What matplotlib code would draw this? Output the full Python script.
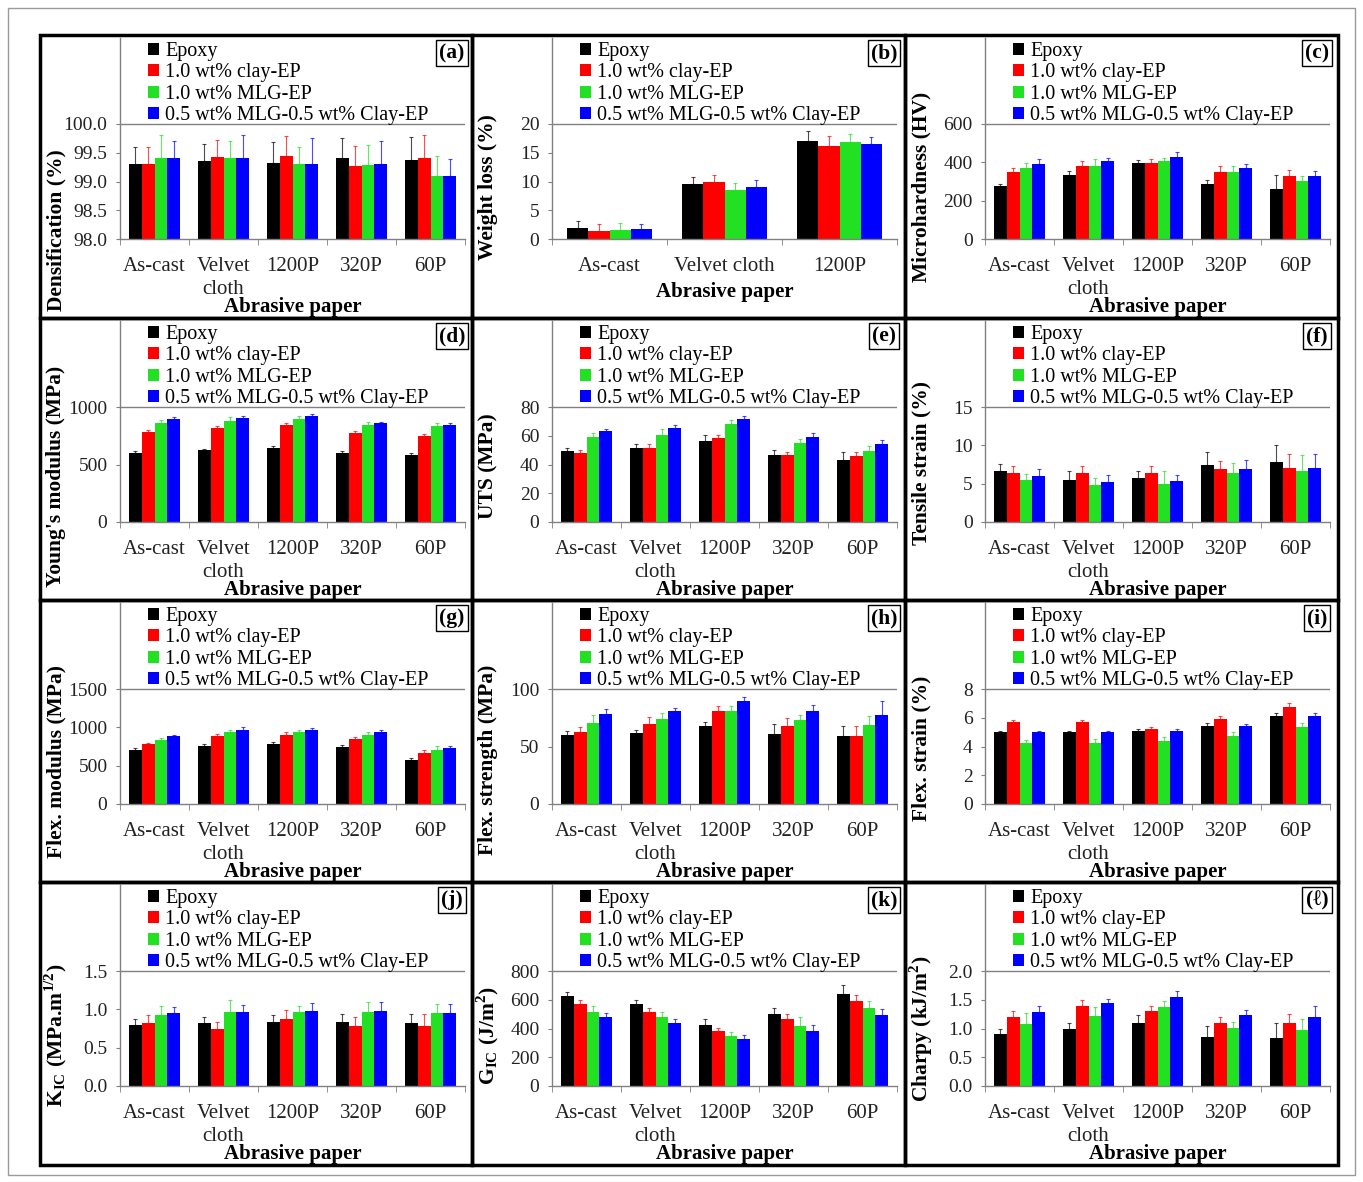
import numpy as np
import matplotlib
matplotlib.use("Agg")
import matplotlib.pyplot as plt
from matplotlib.patches import Rectangle

plt.rcParams['font.family'] = ['Liberation Serif', 'DejaVu Serif']
plt.rcParams['mathtext.fontset'] = 'stix'

# ---- data ----
series = ["Epoxy", "1.0 wt% clay-EP", "1.0 wt% MLG-EP", "0.5 wt% MLG-0.5 wt% Clay-EP"]
colors = ["#000000", "#ff0000", "#22e022", "#0000ff"]

cats5 = ["As-cast", "Velvet\ncloth", "1200P", "320P", "60P"]
cats3 = ["As-cast", "Velvet cloth", "1200P"]

densification = [[99.3, 99.35, 99.33, 99.4, 99.38],
                 [99.3, 99.43, 99.45, 99.27, 99.4],
                 [99.4, 99.4, 99.3, 99.28, 99.1],
                 [99.4, 99.4, 99.3, 99.3, 99.1]]
densification_err = [[0.3, 0.3, 0.35, 0.35, 0.4],
                     [0.3, 0.3, 0.35, 0.35, 0.4],
                     [0.4, 0.3, 0.3, 0.35, 0.35],
                     [0.3, 0.4, 0.45, 0.4, 0.3]]

weight_loss = [[2.0, 9.6, 17.1],
               [1.4, 10.0, 16.1],
               [1.6, 8.5, 16.9],
               [1.7, 9.1, 16.5]]
weight_loss_err = [[1.2, 1.2, 1.6],
                   [1.2, 1.2, 1.9],
                   [1.2, 1.3, 1.4],
                   [0.9, 1.2, 1.3]]

microhardness = [[274, 335, 396, 286, 262],
                 [347, 382, 396, 349, 331],
                 [370, 382, 405, 349, 305],
                 [391, 405, 427, 370, 331]]
microhardness_err = [[15, 20, 15, 20, 70],
                     [25, 25, 20, 30, 30],
                     [25, 35, 20, 30, 25],
                     [25, 20, 25, 20, 25]]

youngs = [[599, 622, 642, 599, 579],
          [779, 814, 842, 771, 745],
          [865, 880, 894, 842, 831],
          [894, 903, 920, 857, 842]]
youngs_err = [[15, 15, 15, 15, 20],
              [20, 20, 20, 20, 20],
              [25, 30, 30, 25, 30],
              [15, 15, 15, 15, 15]]

uts = [[49.7, 51.3, 56.6, 46.3, 42.9],
       [48.1, 51.3, 58.2, 46.8, 45.6],
       [58.9, 60.5, 67.9, 55.0, 49.7],
       [63.0, 65.3, 71.5, 58.9, 54.3]]
uts_err = [[2, 3, 4, 4, 6],
           [2, 3, 2, 2, 3],
           [3, 4, 3, 3, 3],
           [2, 2, 2, 3, 3]]

tensile_strain = [[6.6, 5.5, 5.8, 7.5, 7.8],
                  [6.4, 6.45, 6.45, 6.9, 7.0],
                  [5.5, 4.8, 5.0, 6.45, 6.6],
                  [6.0, 5.2, 5.4, 6.9, 7.05]]
tensile_strain_err = [[1.0, 1.2, 0.8, 1.6, 2.2],
                      [0.9, 0.9, 0.9, 1.1, 1.9],
                      [0.8, 0.9, 1.6, 1.2, 2.2],
                      [0.9, 0.9, 0.7, 1.2, 1.8]]

flex_modulus = [[706, 759, 785, 750, 575],
                [781, 881, 903, 846, 663],
                [837, 938, 938, 903, 698],
                [881, 968, 968, 938, 728]]
flex_modulus_err = [[20, 20, 20, 20, 20],
                    [20, 30, 30, 30, 40],
                    [30, 30, 30, 30, 60],
                    [20, 30, 25, 30, 30]]

flex_strength = [[60.2, 61.6, 68.0, 61.0, 58.7],
                 [62.2, 69.8, 81.1, 67.4, 58.7],
                 [70.3, 73.8, 81.1, 72.7, 68.3],
                 [78.2, 81.1, 89.8, 80.5, 77.0]]
flex_strength_err = [[3, 3, 3, 9, 9],
                     [5, 6, 4, 7, 9],
                     [7, 5, 4, 5, 8],
                     [4, 2, 3, 6, 13]]

flex_strain = [[5.0, 4.98, 5.1, 5.44, 6.1],
               [5.7, 5.7, 5.2, 5.93, 6.74],
               [4.23, 4.23, 4.35, 4.7, 5.33],
               [5.0, 5.0, 5.1, 5.44, 6.1]]
flex_strain_err = [[0.1, 0.1, 0.1, 0.2, 0.2],
                   [0.15, 0.15, 0.15, 0.2, 0.3],
                   [0.2, 0.3, 0.3, 0.3, 0.3],
                   [0.1, 0.1, 0.1, 0.1, 0.2]]

kic = [[0.80, 0.82, 0.84, 0.84, 0.82],
       [0.82, 0.74, 0.87, 0.785, 0.785],
       [0.92, 0.96, 0.97, 0.97, 0.95],
       [0.95, 0.96, 0.98, 0.98, 0.955]]
kic_err = [[0.07, 0.08, 0.08, 0.1, 0.12],
           [0.1, 0.1, 0.12, 0.12, 0.16],
           [0.13, 0.16, 0.08, 0.13, 0.12],
           [0.08, 0.1, 0.1, 0.12, 0.12]]

gic = [[626, 570, 423, 500, 640],
       [570, 516, 381, 463, 591],
       [516, 477, 349, 419, 540],
       [477, 435, 326, 384, 493]]
gic_err = [[30, 30, 40, 40, 60],
           [30, 30, 20, 40, 40],
           [40, 40, 30, 60, 50],
           [30, 30, 30, 40, 40]]

charpy = [[0.90, 1.00, 1.09, 0.85, 0.84],
          [1.20, 1.40, 1.30, 1.10, 1.10],
          [1.07, 1.22, 1.37, 1.01, 0.97],
          [1.29, 1.44, 1.55, 1.23, 1.20]]
charpy_err = [[0.1, 0.1, 0.15, 0.2, 0.25],
              [0.1, 0.1, 0.1, 0.1, 0.15],
              [0.2, 0.15, 0.1, 0.1, 0.2],
              [0.1, 0.07, 0.1, 0.1, 0.2]]

panels = [
    ("(a)", "Densification (%)", cats5, densification, densification_err, (98.0, 100.0, 0.5), "%.1f"),
    ("(b)", "Weight loss (%)", cats3, weight_loss, weight_loss_err, (0, 20, 5), "%d"),
    ("(c)", "Microhardness (HV)", cats5, microhardness, microhardness_err, (0, 600, 200), "%d"),
    ("(d)", "Young's modulus (MPa)", cats5, youngs, youngs_err, (0, 1000, 500), "%d"),
    ("(e)", "UTS (MPa)", cats5, uts, uts_err, (0, 80, 20), "%d"),
    ("(f)", "Tensile strain (%)", cats5, tensile_strain, tensile_strain_err, (0, 15, 5), "%d"),
    ("(g)", "Flex. modulus (MPa)", cats5, flex_modulus, flex_modulus_err, (0, 1500, 500), "%d"),
    ("(h)", "Flex. strength (MPa)", cats5, flex_strength, flex_strength_err, (0, 100, 50), "%d"),
    ("(i)", "Flex. strain (%)", cats5, flex_strain, flex_strain_err, (0, 8, 2), "%d"),
    ("(j)", r"K$_{\mathregular{IC}}$ (MPa.m$^{\mathregular{1/2}}$)", cats5, kic, kic_err, (0.0, 1.5, 0.5), "%.1f"),
    ("(k)", r"G$_{\mathregular{IC}}$ (J/m$^{\mathregular{2}}$)", cats5, gic, gic_err, (0, 800, 200), "%d"),
    ("(\u2113)", r"Charpy (kJ/m$^{\mathregular{2}}$)", cats5, charpy, charpy_err, (0.0, 2.0, 0.5), "%.1f"),
]
ylabel_center = [195, 152, 152, 158, 148, 145, 162, 160, 148, 153, 153, 147]

# ---- layout (pixels) ----
W, H = 1363, 1182
col_edges = [40, 472, 905, 1338]
row_edges = [35, 318, 600, 882, 1165]

fig = plt.figure(figsize=(W / 100, H / 100), dpi=100)
fig.patch.set_facecolor("white")

def fx(px):
    return px / W

def fy(py):
    return 1 - py / H

fig.add_artist(Rectangle((fx(8), fy(1175)), (1355 - 8) / W, (1175 - 8) / H,
                         transform=fig.transFigure, fill=False, ec="#9a9a9a", lw=1))

for i, (tag, ylab, cats, vals, errs, (ymin, ymax, step), fmt) in enumerate(panels):
    r, c = divmod(i, 3)
    pl, pr = col_edges[c], col_edges[c + 1]
    pt, pb = row_edges[r], row_edges[r + 1]

    fig.add_artist(Rectangle((fx(pl), fy(pb)), (pr - pl) / W, (pb - pt) / H,
                             transform=fig.transFigure, fill=False, ec="black", lw=2.5))

    ax = fig.add_axes([fx(pl + 80), fy(pt + 204), 345 / W, 201 / H])
    span = ymax - ymin
    ax.set_ylim(ymin, ymin + span * 201 / 115)
    n = len(cats)
    x = np.arange(n)
    w = 0.185
    for k in range(4):
        v = np.array(vals[k])
        e = np.array(errs[k])
        ax.bar(x + (k - 1.5) * w, v - ymin, w, bottom=ymin, color=colors[k],
               label=series[k], yerr=[np.zeros(n), e],
               error_kw=dict(ecolor=colors[k], elinewidth=0.8, capsize=1.5, capthick=0.8, alpha=0.7))
    ax.axhline(ymax, color="#808080", lw=1)
    ax.set_xlim(-0.5, n - 0.5)
    ticks = np.arange(ymin, ymax + step / 2, step)
    ax.set_yticks(ticks)
    ax.set_yticklabels([fmt % t for t in ticks])
    ax.set_xticks(x)
    ax.set_xticklabels(cats, fontsize=15, linespacing=1.25)
    ax.set_xticks(np.arange(-0.5, n, 1.0), minor=True)
    ax.tick_params(axis="x", which="major", length=0, pad=13, colors="#222222")
    ax.tick_params(axis="x", which="minor", length=4, color="#808080")
    ax.tick_params(axis="y", length=3, color="#808080", labelsize=14, labelcolor="#222222", pad=6)
    for s in ["top", "right"]:
        ax.spines[s].set_visible(False)
    for s in ["left", "bottom"]:
        ax.spines[s].set_color("#808080")
        ax.spines[s].set_linewidth(1)

    xl_off = 53 if n == 3 else 68
    ax.text(0.5, -xl_off / 201, "Abrasive paper", transform=ax.transAxes,
            ha="center", va="center", fontsize=15, fontweight="bold")

    fig.text(fx(pl + 16), fy(pt + ylabel_center[i]), ylab, rotation=90,
             ha="center", va="center", fontsize=15.5, fontweight="bold")

    ax.legend(loc="upper left", bbox_to_anchor=(28 / 345, 197 / 201), frameon=False,
              fontsize=14.5, handlelength=0.55, handleheight=0.55, handletextpad=0.3,
              labelspacing=0.12, borderpad=0, borderaxespad=0)

    fig.text(fx(pl + 412), fy(pt + 18), tag, ha="center", va="center",
             fontsize=15.5, fontweight="bold",
             bbox=dict(boxstyle="square,pad=0.15", fc="white", ec="black", lw=1))

fig.savefig("out.png", dpi=100)
